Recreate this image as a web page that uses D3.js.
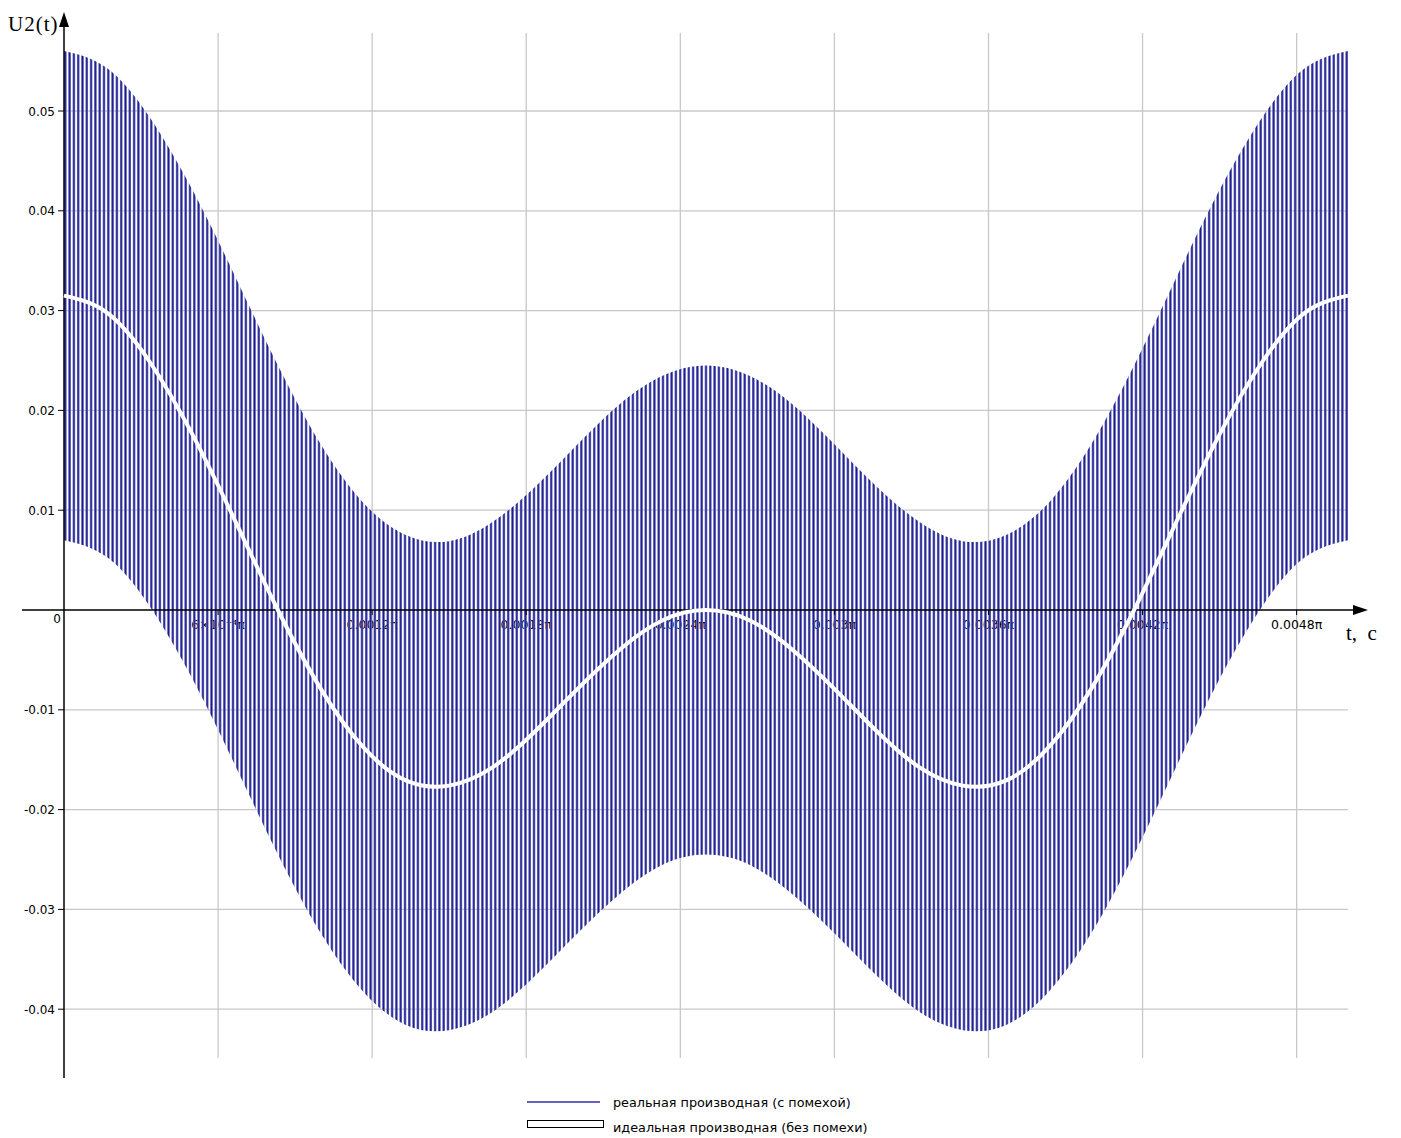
<!DOCTYPE html>
<html>
<head>
<meta charset="utf-8">
<script src="https://cdn.jsdelivr.net/npm/d3@7"></script>
<style>
  body { margin: 0; background: #fff; }
  svg { display: block; }
</style>
</head>
<body>
<svg id="chart" width="1401" height="1138"></svg>
<script>
// time in units of pi (seconds / pi)
var timeVals = [0, 0.000167, 0.000333, 0.0005, 0.000667, 0.000833, 0.001, 0.001167, 0.001333, 0.0015,
    0.001667, 0.001833, 0.002, 0.002167, 0.002333, 0.0025, 0.002667, 0.002833, 0.003, 0.003167,
    0.003333, 0.0035, 0.003667, 0.003833, 0.004, 0.004167, 0.004333, 0.0045, 0.004667, 0.004833, 0.005];
// ideal derivative (white curve)
var idealVals = [0.0315, 0.0298, 0.0249, 0.0176, 0.0089, 0, -0.0079, -0.0138, -0.0171, -0.0176,
    -0.0158, -0.0122, -0.0079, -0.0039, -0.0010, 0, -0.0010, -0.0039, -0.0079, -0.0122,
    -0.0158, -0.0176, -0.0171, -0.0138, -0.0079, 0, 0.0089, 0.0176, 0.0249, 0.0298, 0.0315];
// real derivative with noise: upper / lower swing of the fast oscillation
var noiseUpper = [0.0560, 0.0543, 0.0494, 0.0421, 0.0334, 0.0245, 0.0166, 0.0107, 0.0075, 0.0069,
    0.0088, 0.0123, 0.0166, 0.0207, 0.0235, 0.0245, 0.0235, 0.0207, 0.0166, 0.0123,
    0.0088, 0.0069, 0.0075, 0.0107, 0.0166, 0.0245, 0.0334, 0.0421, 0.0494, 0.0543, 0.0560];
var noiseLower = [0.0070, 0.0053, 0.0004, -0.0069, -0.0156, -0.0245, -0.0324, -0.0383, -0.0416, -0.0421,
    -0.0403, -0.0367, -0.0324, -0.0284, -0.0255, -0.0245, -0.0255, -0.0284, -0.0324, -0.0367,
    -0.0403, -0.0421, -0.0416, -0.0383, -0.0324, -0.0245, -0.0156, -0.0069, 0.0004, 0.0053, 0.0070];
var xTicks = [0.0006, 0.0012, 0.0018, 0.0024, 0.003, 0.0036, 0.0042, 0.0048];
var xTickLabels = ['6\u00d710\u207b\u2074\u03c0', '0.0012\u03c0', '0.0018\u03c0', '0.0024\u03c0',
    '0.003\u03c0', '0.0036\u03c0', '0.0042\u03c0', '0.0048\u03c0'];
var yTicks = [0.05, 0.04, 0.03, 0.02, 0.01, -0.01, -0.02, -0.03, -0.04];
var legendLabels = ['реальная производная (с помехой)', 'идеальная производная (без помехи)'];

var navy = '#1a1a8c';
var svg = d3.select('#chart');

var x = d3.scaleLinear().domain([0, 0.005]).range([64, 1348]);
var y = d3.scaleLinear().domain([0, 0.05]).range([610, 111]);

var rows = timeVals.map(function (t, i) {
    return { t: t, ideal: idealVals[i], up: noiseUpper[i], lo: noiseLower[i] };
});

// stripes standing in for the fast oscillation
var defs = svg.append('defs');
var pat = defs.append('pattern')
    .attr('id', 'noiseStripes')
    .attr('patternUnits', 'userSpaceOnUse')
    .attr('x', x(0))
    .attr('y', 0)
    .attr('width', 4.3)
    .attr('height', 20);
pat.append('rect').attr('x', 0).attr('width', 2.6).attr('height', 20).attr('fill', '#8c8cd2');
pat.append('rect').attr('x', 0.5).attr('width', 1.6).attr('height', 20).attr('fill', navy);

// grid
var grid = svg.append('g').attr('class', 'grid');
grid.selectAll('line.gx')
    .data(xTicks)
    .enter().append('line')
    .attr('class', 'gx')
    .attr('x1', function (d) { return x(d); })
    .attr('x2', function (d) { return x(d); })
    .attr('y1', 33)
    .attr('y2', 1058)
    .attr('stroke', '#c8c8c8')
    .attr('stroke-width', 1.3);
grid.selectAll('line.gy')
    .data(yTicks)
    .enter().append('line')
    .attr('class', 'gy')
    .attr('x1', x(0))
    .attr('x2', x(0.005))
    .attr('y1', function (d) { return y(d); })
    .attr('y2', function (d) { return y(d); })
    .attr('stroke', '#c8c8c8')
    .attr('stroke-width', 1.3);

// x tick labels sit under the noisy band, as in the original
svg.append('g').selectAll('text')
    .data(xTicks)
    .enter().append('text')
    .attr('x', function (d) { return x(d); })
    .attr('y', 629)
    .attr('text-anchor', 'middle')
    .attr('font-family', 'DejaVu Sans, sans-serif')
    .attr('font-size', 12.5)
    .attr('fill', '#000')
    .text(function (d, i) { return xTickLabels[i]; });

// real derivative (noisy band)
var band = d3.area()
    .x(function (d) { return x(d.t); })
    .y0(function (d) { return y(d.lo); })
    .y1(function (d) { return y(d.up); })
    .curve(d3.curveNatural);
svg.append('path')
    .datum(rows)
    .attr('class', 'real')
    .attr('fill', 'url(#noiseStripes)')
    .attr('d', band);

// axes
var axes = svg.append('g').attr('class', 'axes');
axes.append('line')
    .attr('x1', 22).attr('x2', 1356)
    .attr('y1', y(0)).attr('y2', y(0))
    .attr('stroke', '#000').attr('stroke-width', 1.5);
axes.append('path')
    .attr('d', 'M1368,' + y(0) + 'L1353,' + (y(0) - 5) + 'L1353,' + (y(0) + 5) + 'Z')
    .attr('fill', '#000');
axes.append('line')
    .attr('x1', x(0)).attr('x2', x(0))
    .attr('y1', 24).attr('y2', 1078)
    .attr('stroke', '#000').attr('stroke-width', 1.5);
axes.append('path')
    .attr('d', 'M' + x(0) + ',12L' + (x(0) - 5) + ',27L' + (x(0) + 5) + ',27Z')
    .attr('fill', '#000');
axes.selectAll('line.ty')
    .data(yTicks)
    .enter().append('line')
    .attr('class', 'ty')
    .attr('x1', x(0) - 6).attr('x2', x(0))
    .attr('y1', function (d) { return y(d); })
    .attr('y2', function (d) { return y(d); })
    .attr('stroke', '#000');
axes.selectAll('line.tx')
    .data(xTicks)
    .enter().append('line')
    .attr('class', 'tx')
    .attr('x1', function (d) { return x(d); })
    .attr('x2', function (d) { return x(d); })
    .attr('y1', y(0)).attr('y2', y(0) + 5)
    .attr('stroke', '#000');
axes.selectAll('text.ly')
    .data(yTicks)
    .enter().append('text')
    .attr('class', 'ly')
    .attr('x', 55)
    .attr('y', function (d) { return y(d) + 4.5; })
    .attr('text-anchor', 'end')
    .attr('font-family', 'DejaVu Sans, sans-serif')
    .attr('font-size', 12)
    .text(function (d) { return d < 0 ? '-' + d3.format('.2f')(-d) : d3.format('.2f')(d); });
axes.append('text')
    .attr('x', 57).attr('y', 623)
    .attr('text-anchor', 'middle')
    .attr('font-family', 'DejaVu Sans, sans-serif')
    .attr('font-size', 12)
    .text('0');
axes.append('text')
    .attr('x', 8).attr('y', 31)
    .attr('font-family', 'Liberation Serif, serif')
    .attr('font-size', 21)
    .attr('letter-spacing', 1)
    .text('U2(t)');
axes.append('text')
    .attr('x', 1346).attr('y', 640)
    .attr('font-family', 'Liberation Serif, serif')
    .attr('font-size', 21)
    .attr('xml:space', 'preserve')
    .text('t,  c');

// ideal derivative
var idealLine = d3.line()
    .x(function (d) { return x(d.t); })
    .y(function (d) { return y(d.ideal); })
    .curve(d3.curveNatural);
svg.append('path')
    .datum(rows)
    .attr('class', 'ideal')
    .attr('fill', 'none')
    .attr('stroke', '#fff')
    .attr('stroke-width', 4)
    .attr('d', idealLine);

// legend
var legend = svg.append('g').attr('class', 'legend');
legend.append('line')
    .attr('x1', 527).attr('x2', 600)
    .attr('y1', 1102).attr('y2', 1102)
    .attr('stroke', '#3030a8').attr('stroke-width', 1.5);
legend.append('rect')
    .attr('x', 527.5).attr('y', 1120.5)
    .attr('width', 76).attr('height', 7)
    .attr('fill', '#fff').attr('stroke', '#000');
legend.selectAll('text')
    .data(legendLabels)
    .enter().append('text')
    .attr('x', 613)
    .attr('y', function (d, i) { return 1107 + i * 25; })
    .attr('font-family', 'DejaVu Sans, sans-serif')
    .attr('font-size', 12.8)
    .attr('fill', '#000')
    .text(function (d) { return d; });
</script>
</body>
</html>
